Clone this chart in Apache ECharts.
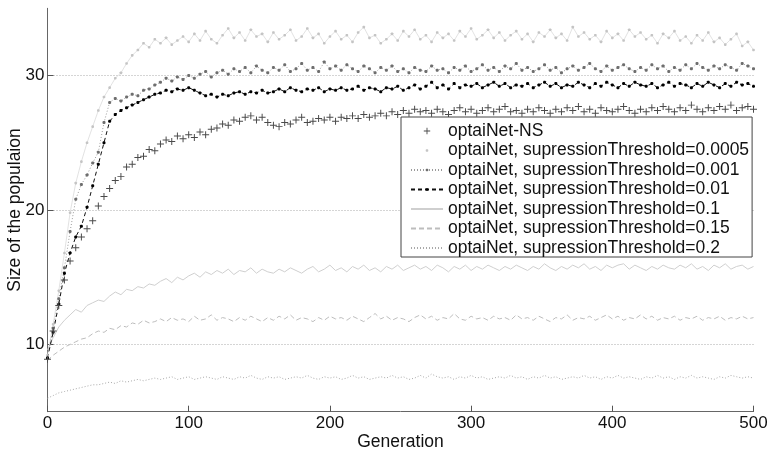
<!DOCTYPE html>
<html>
<head>
<meta charset="utf-8">
<script src="https://cdn.jsdelivr.net/npm/echarts@6/dist/echarts.min.js"></script>
<style>
  html, body { margin: 0; padding: 0; background: #fff; }
  #chart { width: 770px; height: 452px; }
</style>
</head>
<body>
<div id="chart"></div>
<script>
// Population size per generation, sampled every 4 generations (0..500)
const nsValues = [
  8.9, 11.0, 12.9, 14.8, 16.2, 17.2, 18.0, 18.6, 19.2, 20.3,
  21.0, 21.6, 22.2, 22.5, 23.2, 23.4, 23.9, 24.0, 24.5, 24.4,
  24.9, 25.2, 25.1, 25.5, 25.3, 25.6, 25.4, 25.8, 25.6, 26.0,
  26.1, 26.4, 26.3, 26.7, 26.6, 26.9, 27.0, 26.7, 26.9, 26.5,
  26.3, 26.2, 26.5, 26.4, 26.7, 26.9, 26.5, 26.6, 26.8, 26.7,
  26.9, 26.6, 26.9, 26.8, 27.0, 26.8, 27.1, 26.9, 27.0, 27.2,
  27.0, 27.3, 27.1, 27.4, 27.2, 27.5, 27.3, 27.4, 27.2, 27.5,
  27.3, 27.1, 27.4, 27.6, 27.3, 27.5, 27.2, 27.4, 27.6, 27.3,
  27.5, 27.7, 27.3, 27.4, 27.2, 27.5, 27.3, 27.6, 27.4, 27.2,
  27.5, 27.3, 27.6, 27.4, 27.7, 27.3, 27.5, 27.2, 27.6, 27.4,
  27.3, 27.5, 27.7, 27.4, 27.2, 27.5, 27.3, 27.6, 27.4, 27.7,
  27.5, 27.3, 27.6, 27.4, 27.8, 27.5, 27.3, 27.6, 27.4, 27.7,
  27.5, 27.8, 27.4, 27.6, 27.7, 27.5
];
const t0005Values = [
  9.2, 11.5, 14.0, 16.8, 19.8, 22.0, 23.6, 25.0, 26.2, 27.4,
  28.4, 29.1, 29.8, 30.2, 30.9, 31.5, 31.9, 32.4, 32.1, 32.7,
  32.4, 32.8, 32.3, 32.6, 32.9, 32.5, 33.1, 32.6, 33.3, 32.7,
  32.4, 33.0, 33.5, 32.8, 33.2, 32.6, 33.4, 32.9, 33.1, 32.5,
  33.2, 32.7, 33.0, 33.4, 32.6, 32.9, 33.5, 32.8, 33.1, 32.4,
  32.9, 33.3, 32.7, 33.0, 32.5, 33.2, 33.6, 32.8, 33.0, 32.4,
  32.7, 33.1, 32.6, 33.3, 32.9, 33.4, 32.7, 33.0, 32.5, 33.2,
  32.8, 33.1, 32.6, 33.3, 32.9, 33.5, 32.7, 33.0, 33.4, 32.8,
  33.2, 32.6, 33.0, 33.3, 32.7, 33.1, 32.5, 33.2, 32.9, 33.4,
  32.8, 33.1, 32.6, 33.6, 32.9, 33.2, 32.7, 33.0, 32.5, 33.3,
  32.8, 33.1, 32.6, 33.4, 32.9, 33.2, 32.7, 33.0, 32.4, 33.1,
  32.8, 33.3, 32.6, 32.9, 32.4, 33.0, 32.6, 33.2, 32.5, 32.8,
  32.3, 32.7, 33.1, 32.2, 32.5, 31.9
];
const t001Values = [
  9.0, 11.2, 13.4, 15.7, 18.4, 20.8, 21.9, 22.6, 23.5, 24.3,
  26.5, 28.0, 28.3, 28.1, 28.4, 28.6, 28.5, 28.9, 29.0, 29.3,
  29.5, 29.8, 29.6, 29.9, 29.7, 30.0, 29.8, 30.1, 30.3, 29.9,
  30.2, 30.4, 30.1, 30.5, 30.3, 30.6, 30.2, 30.7, 30.4, 30.2,
  30.6, 30.4, 30.8, 30.3, 30.5, 30.9, 30.4, 30.6, 30.3, 31.0,
  30.5, 30.7, 30.4, 30.8, 30.5, 30.3, 30.7, 30.5, 30.2, 30.6,
  30.4, 30.7, 30.3, 30.5, 30.2, 30.6, 30.4, 30.3, 30.7, 30.4,
  30.5, 30.2, 30.6, 30.4, 30.7, 30.3, 30.5, 30.8, 30.4, 30.6,
  30.3, 30.7, 30.5, 30.9, 30.4, 30.6, 30.3, 30.5, 30.8, 30.4,
  30.6, 30.2, 30.5, 30.7, 30.4, 30.6, 30.9, 30.5, 30.3, 30.7,
  30.4, 30.6, 30.8, 30.5, 30.3, 30.6, 30.4, 30.8, 30.5, 30.7,
  30.3, 30.6, 30.4, 30.8, 30.5, 30.9, 30.6, 30.4, 30.7, 30.5,
  30.8, 30.6, 30.4, 30.9, 30.7, 30.5
];
const t01Values = [
  9.0, 10.9, 13.0, 15.3, 16.8, 18.0, 18.8, 20.2, 21.8, 23.4,
  25.0, 26.6, 27.1, 27.4, 27.6, 27.8, 28.0, 28.2, 28.4, 28.6,
  28.7, 28.9, 28.8, 29.0, 28.9, 29.1, 28.9, 28.7, 28.5, 28.6,
  28.4, 28.6, 28.5, 28.7, 28.8, 28.6, 28.8, 28.7, 28.9, 28.7,
  28.8, 29.0, 28.8, 29.1, 28.9, 28.8, 29.0, 28.9, 29.1, 28.8,
  29.0, 28.9, 29.1, 28.9, 29.0, 29.2, 28.9, 29.1, 29.0, 28.8,
  29.1, 29.0, 29.2, 28.9, 29.1, 29.3, 29.0, 29.2, 29.5, 29.1,
  29.3, 29.0, 29.4, 29.1, 29.3, 29.2, 29.4, 29.1, 29.3, 29.5,
  29.2, 29.4, 29.1, 29.3, 29.2, 29.4, 29.1, 29.3, 29.5, 29.2,
  29.4, 29.1, 29.3, 29.2, 29.5, 29.3, 29.1, 29.4, 29.2, 29.5,
  29.3, 29.1, 29.4, 29.2, 29.5, 29.3, 29.2, 29.4, 29.1, 29.3,
  29.5, 29.2, 29.4, 29.3, 29.1, 29.4, 29.2, 29.5, 29.3, 29.1,
  29.4, 29.2, 29.5, 29.3, 29.4, 29.2
];
const t1Values = [
  9.6, 10.5, 11.3, 11.8, 12.2, 12.6, 12.4, 12.9, 13.1, 13.3,
  13.2, 13.6, 13.9, 13.7, 14.1, 14.0, 14.3, 14.2, 14.5, 14.4,
  14.7, 14.9, 14.6, 15.0, 14.8, 15.1, 15.3, 15.0, 15.4, 15.2,
  15.5, 15.3, 15.6, 15.2, 15.5, 15.4, 15.7, 15.3, 15.6, 15.4,
  15.3, 15.6, 15.4, 15.7, 15.5, 15.3, 15.6, 15.8, 15.4, 15.6,
  15.9, 15.5, 15.7, 15.4, 15.8, 15.6, 15.9, 15.5, 15.7, 15.4,
  15.8, 15.6, 15.9, 15.5, 15.7, 15.9, 15.6, 15.8, 15.5, 15.9,
  15.7, 15.4, 15.8, 15.6, 15.9, 15.5, 15.8, 15.6, 15.9, 15.7,
  15.5, 15.8, 15.6, 15.9, 15.7, 15.5, 15.8, 15.6, 16.0, 15.7,
  15.5, 15.8, 15.6, 15.9, 15.7, 16.0, 15.6, 15.8, 15.5, 15.9,
  15.7, 15.9, 16.0, 15.6, 15.9, 15.7, 15.5, 15.8, 15.6, 15.9,
  15.7, 15.6, 15.9, 15.7, 16.0, 15.6, 15.8, 15.5, 15.9, 15.7,
  16.0, 15.6, 15.8, 15.9, 15.6, 15.8
];
const t15Values = [
  8.8, 9.2, 9.5, 9.8, 10.0, 10.2, 10.4, 10.5, 10.8, 11.0,
  10.9, 11.2, 11.1, 11.4, 11.3, 11.6, 11.5, 11.8, 11.6, 11.7,
  11.9, 11.7, 12.0, 11.8, 11.9, 11.7, 12.1, 11.8, 11.9, 12.2,
  11.8, 12.0, 11.9, 11.7, 12.0, 11.8, 12.1, 11.9, 11.7, 12.0,
  11.8, 12.1, 11.9, 12.2, 11.8, 12.0, 11.9, 11.7, 12.0, 11.8,
  12.1, 11.9, 12.0, 11.8, 12.1, 11.9, 11.7, 12.0, 12.3, 11.9,
  12.1, 11.8, 12.0, 11.9, 11.7, 12.0, 12.2, 11.9, 12.1, 11.8,
  12.0, 11.9, 12.3, 11.9, 11.8, 12.1, 11.9, 12.0, 11.8, 12.1,
  11.9, 12.0, 11.8, 12.2, 11.9, 12.0, 11.8, 12.1, 11.9, 11.7,
  12.0, 11.9, 12.2, 11.8, 12.0, 11.9, 12.1, 11.8, 12.0, 12.2,
  11.9, 12.1, 11.8, 12.0, 11.9, 12.2, 11.9, 12.1, 11.8, 12.0,
  11.9, 12.1, 11.8, 12.0, 11.9, 12.1, 11.8, 12.0, 11.9, 12.1,
  11.8, 12.0, 11.9, 12.1, 11.9, 12.0
];
const t2Values = [
  6.0, 6.2, 6.4, 6.5, 6.6, 6.7, 6.8, 6.9, 7.0, 7.0,
  7.1, 7.2, 7.1, 7.3, 7.2, 7.3, 7.4, 7.3, 7.4, 7.5,
  7.4, 7.5, 7.6, 7.4, 7.5, 7.6, 7.4, 7.5, 7.6, 7.5,
  7.4, 7.6, 7.5, 7.4, 7.6, 7.5, 7.7, 7.5, 7.4, 7.6,
  7.5, 7.6, 7.4, 7.5, 7.6, 7.5, 7.7, 7.5, 7.4, 7.6,
  7.5, 7.6, 7.4, 7.5, 7.7, 7.5, 7.6, 7.4, 7.5, 7.6,
  7.5, 7.7, 7.5, 7.6, 7.4, 7.5, 7.7, 7.5, 7.8, 7.6,
  7.5, 7.6, 7.4, 7.6, 7.5, 7.7, 7.5, 7.6, 7.4, 7.5,
  7.6, 7.5, 7.7, 7.5, 7.6, 7.4, 7.6, 7.5, 7.7, 7.5,
  7.6, 7.4, 7.5, 7.6, 7.5, 7.7, 7.5, 7.6, 7.4, 7.6,
  7.5, 7.7, 7.5, 7.6, 7.5, 7.4, 7.6, 7.5, 7.7, 7.5,
  7.6, 7.4, 7.6, 7.5, 7.7, 7.5, 7.6, 7.5, 7.4, 7.6,
  7.5, 7.7, 7.6, 7.5, 7.6, 7.5
];

const GEN_STEP = 4;
const generations = nsValues.map((_, i) => i * GEN_STEP);
const yTicks = [10, 20, 30];

const seriesNames = [
  'optaiNet-NS',
  'optaiNet, supressionThreshold=0.0005',
  'optaiNet, supressionThreshold=0.001',
  'optaiNet, supressionThreshold=0.01',
  'optaiNet, supressionThreshold=0.1',
  'optaiNet, supressionThreshold=0.15',
  'optaiNet, supressionThreshold=0.2'
];

const pair = vals => vals.map((v, i) => [generations[i], v]);
// '+' marker filling its box
const PLUS = 'path://M4.3,0H5.7V4.3H10V5.7H5.7V10H4.3V5.7H0V4.3H4.3Z';
// small dot (40% of the symbol box) so markers stay small in the legend too
const DOT = 'path://M0,0M10,10M4,3H6L7,4V6L6,7H4L3,6V4Z';
const FONT = '"Liberation Sans", Arial, sans-serif';
const hidden = { opacity: 0 };

const chart = echarts.init(document.getElementById('chart'), null, { renderer: 'canvas' });

chart.setOption({
  animation: false,
  backgroundColor: '#ffffff',
  textStyle: { fontFamily: FONT },
  grid: {
    left: 47.5, right: 16.5, top: 8.3, bottom: 40.3,
    containLabel: false, outerBoundsMode: 'none'
  },
  xAxis: {
    type: 'value', min: 0, max: 500, interval: 100,
    name: 'Generation', nameLocation: 'middle', nameGap: 21.5, nameMoveOverlap: false,
    nameTextStyle: { fontSize: 17.5, color: '#111', fontFamily: FONT },
    axisLine: { show: true, lineStyle: { color: '#666', width: 1 } },
    axisTick: { show: true, inside: true, length: 6, lineStyle: { color: '#555' } },
    axisLabel: { fontSize: 17, color: '#111', margin: 3, fontFamily: FONT },
    splitLine: { show: false }
  },
  yAxis: {
    type: 'value', min: 5, max: 35,
    name: 'Size of the populaion', nameLocation: 'middle', nameGap: 23, nameRotate: 90,
    nameMoveOverlap: false,
    nameTextStyle: { fontSize: 17.5, color: '#111', fontFamily: FONT },
    axisLine: { show: true, lineStyle: { color: '#666', width: 1 } },
    axisTick: { show: true, inside: true, length: 6, customValues: yTicks, lineStyle: { color: '#555' } },
    axisLabel: { fontSize: 17, color: '#111', margin: 3, customValues: yTicks, fontFamily: FONT },
    splitLine: { show: true, lineStyle: { color: '#aaa', type: [1, 2], width: 1 } }
  },
  legend: {
    orient: 'vertical', left: 401, top: 117,
    backgroundColor: '#fff', borderColor: '#444', borderWidth: 1,
    padding: [5, 3, 0, 9],
    itemWidth: 32, itemHeight: 8, itemGap: 1.5,
    textStyle: { fontSize: 17.5, color: '#111', lineHeight: 16, fontFamily: FONT },
    data: [
      { name: seriesNames[0] },
      { name: seriesNames[1], lineStyle: hidden },
      { name: seriesNames[2] },
      { name: seriesNames[3] },
      { name: seriesNames[4], itemStyle: hidden },
      { name: seriesNames[5], itemStyle: hidden },
      { name: seriesNames[6], itemStyle: hidden }
    ]
  },
  series: [
    {
      name: seriesNames[6], type: 'line', data: pair(t2Values), showSymbol: false,
      lineStyle: { color: '#a9a9a9', width: 1, type: [1, 2] }, itemStyle: { color: '#a9a9a9' }
    },
    {
      name: seriesNames[5], type: 'line', data: pair(t15Values), showSymbol: false,
      lineStyle: { color: '#bdbdbd', width: 1, type: [5, 3] }, itemStyle: { color: '#bdbdbd' }
    },
    {
      name: seriesNames[4], type: 'line', data: pair(t1Values), showSymbol: false,
      lineStyle: { color: '#cfcfcf', width: 1 }, itemStyle: { color: '#cfcfcf' }
    },
    {
      name: seriesNames[1], type: 'line', data: pair(t0005Values),
      showSymbol: true, symbol: DOT, symbolSize: 6.5,
      lineStyle: { color: '#dadada', width: 0.8 }, itemStyle: { color: '#c4c4c4' }
    },
    {
      name: seriesNames[2], type: 'line', data: pair(t001Values),
      showSymbol: true, symbol: DOT, symbolSize: 7.5,
      lineStyle: { color: '#9a9a9a', width: 1, type: [1, 2] }, itemStyle: { color: '#6e6e6e' }
    },
    {
      name: seriesNames[3], type: 'line', data: pair(t01Values),
      showSymbol: true, symbol: DOT, symbolSize: 7.5,
      lineStyle: { color: '#111', width: 1, type: [4, 3] }, itemStyle: { color: '#000' }
    },
    {
      name: seriesNames[0], type: 'line', data: pair(nsValues),
      showSymbol: true, symbol: PLUS, symbolSize: 7,
      lineStyle: { opacity: 0, width: 0 }, itemStyle: { color: '#4a4a4a' }
    }
  ]
});
</script>
</body>
</html>
